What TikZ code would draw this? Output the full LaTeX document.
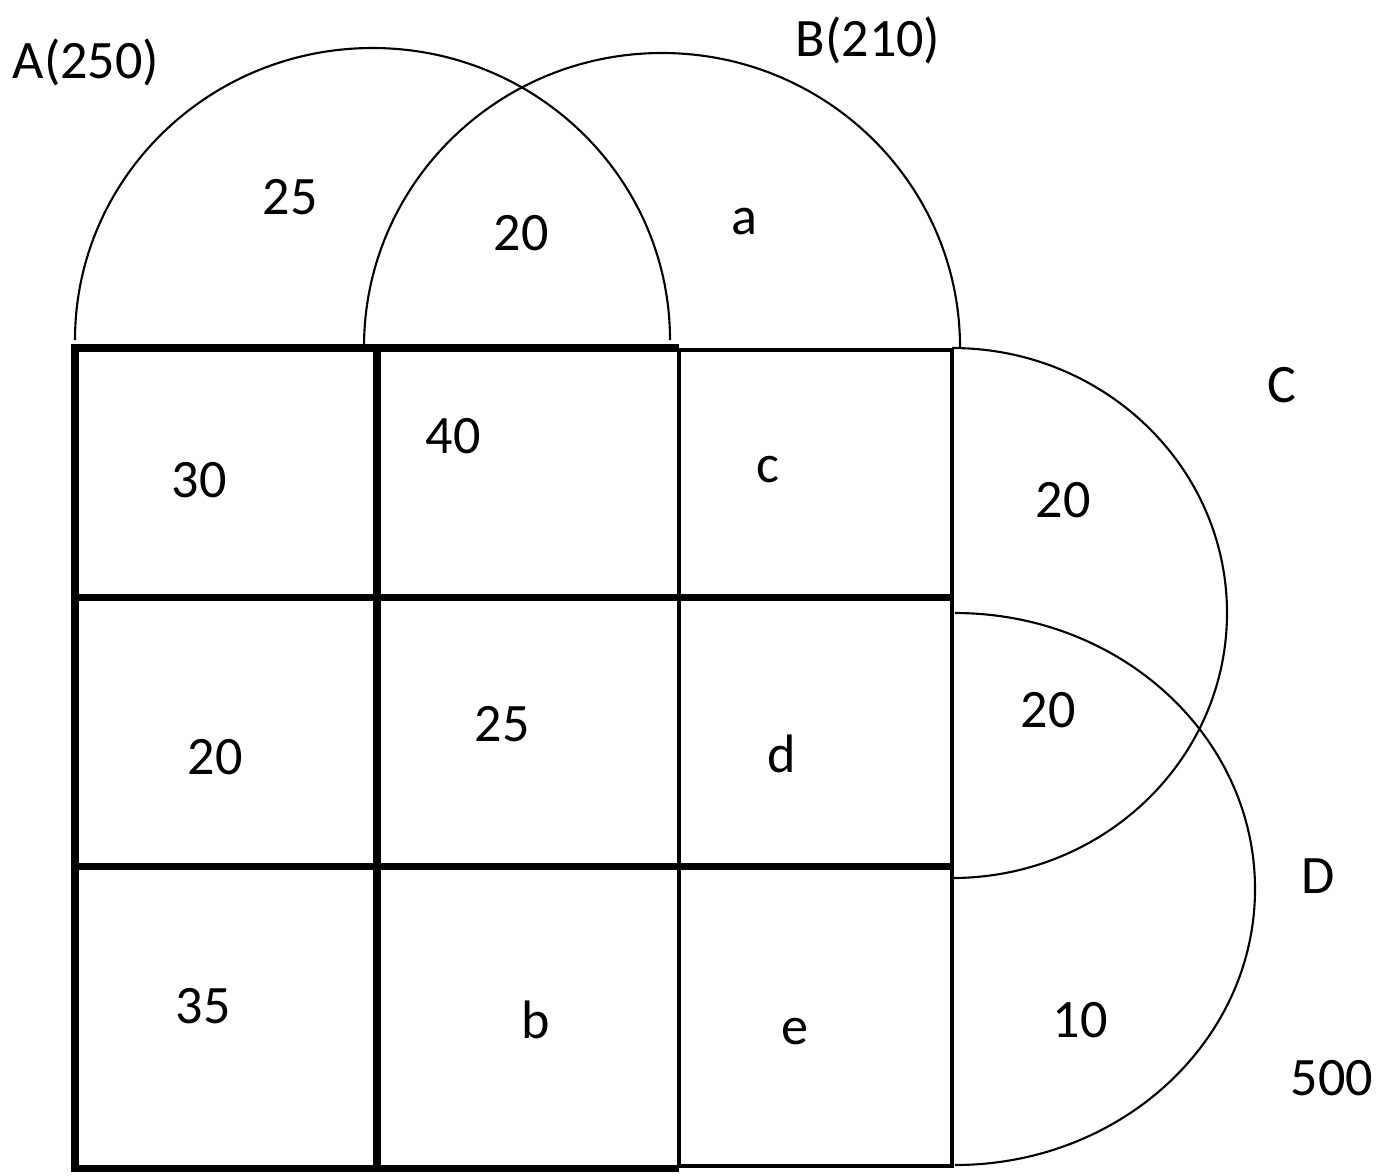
\documentclass[tikz,border=0pt]{standalone}
\usepackage{fontspec}
\setmainfont{Carlito}
\begin{document}
\begin{tikzpicture}[x=0.01cm,y=-0.01cm,
 num/.style={font=\fontsize{15.4}{19}\selectfont,inner sep=0pt},
 heavy/.style={line width=2pt},
 light/.style={line width=0.9pt},
 ring/.style={line width=0.6pt}]
 \useasboundingbox (0,0) rectangle (1376,1175);
 % sets as half circles
 \draw[ring] (75,340) arc[start angle=180,end angle=360,x radius=297.5,y radius=292];
 \draw[ring] (364,347) arc[start angle=180,end angle=360,x radius=298,y radius=294];
 \draw[ring] (952,348) arc[start angle=-90,end angle=90,x radius=275,y radius=265];
 \draw[ring] (955,613) arc[start angle=-90,end angle=90,x radius=300,y radius=276];
 % grid
 \draw[light] (679,348)--(679,1168) (679,350)--(952,350)--(952,1166)--(679,1166);
 \draw[heavy] (679,348)--(75,348)--(75,1168)--(679,1168);
 \draw[heavy] (377,348)--(377,1168);
 \draw[heavy] (75,597)--(952,597) (75,866)--(952,866);
 % labels
 \node[num] (lA) at (86,62) {A(250)};
 \node[num] (lB) at (868,40) {B(210)};
 \node[num] (lC) at (1282,385) {C};
 \node[num] (lD) at (1318,876) {D};
 \node[num] (tot) at (1332,1078) {500};
 \node[num] (nA) at (290,197) {25};
 \node[num] (nAB) at (521,233) {20};
 \node[num] (na) at (744,222) {a};
 \node[num] (r1c1) at (199,480) {30};
 \node[num] (r1c2) at (453,436) {40};
 \node[num] (r1c3) at (768,470) {c};
 \node[num] (nC) at (1063,500) {20};
 \node[num] (r2c1) at (215,757) {20};
 \node[num] (r2c2) at (502,724) {25};
 \node[num] (r2c3) at (782,754) {d};
 \node[num] (nCD) at (1048,710) {20};
 \node[num] (r3c1) at (203,1006) {35};
 \node[num] (r3c2) at (536,1020) {b};
 \node[num] (r3c3) at (795,1032) {e};
 \node[num] (nD) at (1080,1020) {10};
\end{tikzpicture}
\end{document}
